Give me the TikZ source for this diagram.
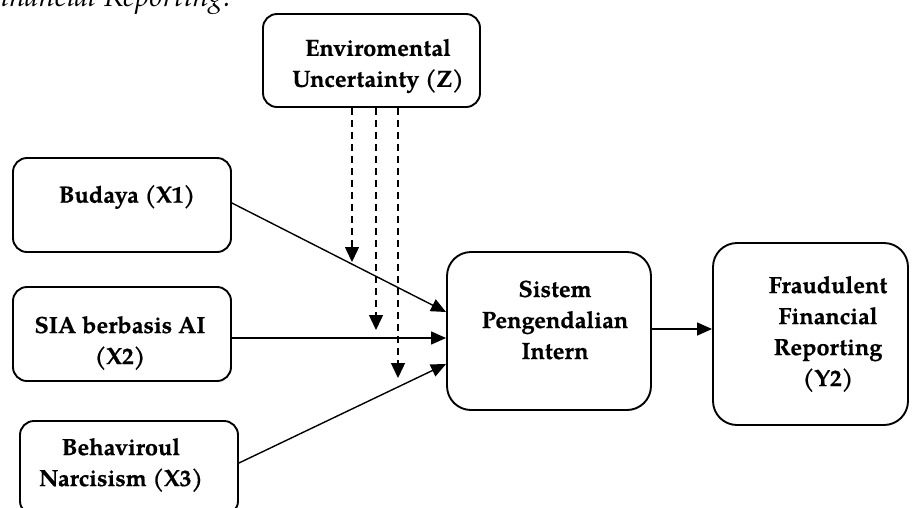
\documentclass[tikz,border=0pt]{standalone}
\usepackage{fontspec}
\setmainfont{TeX Gyre Pagella}[BoldFeatures={FakeBold=0.6}]
\usetikzlibrary{arrows.meta,calc}
\begin{document}
\begin{tikzpicture}[x=1pt,y=-1pt,
  box/.style={draw, line width=1.9pt, rounded corners=14pt, inner sep=0pt},
  bigbox/.style={box, rounded corners=24pt},
  lbl/.style={font=\bfseries\fontsize{23.5}{31}\selectfont, align=center, inner sep=0pt},
  arr/.style={line width=1.4pt, -{Triangle[length=15pt,width=13pt]}},
  darr/.style={line width=1.4pt, dash pattern=on 7pt off 5pt, -{Triangle[length=15pt,width=14pt]}}]
\useasboundingbox (0,0) rectangle (912,507);
\clip (0,0) rectangle (912,507);
\fill[white] (0,0) rectangle (912,507);
% cut-off caption line at the top
\node[font=\itshape\fontsize{29.5}{34}\selectfont, anchor=base east, inner sep=0pt] (cap) at (231,6.5) {Fraudulent Financial Reporting.};
% boxes
\node[box, minimum width=217pt, minimum height=93pt] (z) at (371.5,60.5) {};
\node[box, minimum width=218pt, minimum height=94pt] (bud) at (122,205) {};
\node[box, minimum width=218pt, minimum height=94pt] (sia) at (122,334) {};
\node[box, minimum width=218pt, minimum height=94pt] (beh) at (129,468) {};
\node[bigbox, minimum width=204pt, minimum height=158pt] (spi) at (549,331) {};
\node[bigbox, minimum width=195pt, minimum height=182pt] (fr) at (810.5,334) {};
% labels
\node[lbl] (tz) at (378,66) {Enviromental\\Uncertainty (Z)};
\node[lbl] (tbud) at (127,197) {Budaya (X1)};
\node[lbl] (tsia) at (120,343) {SIA berbasis AI\\(X2)};
\node[lbl] (tbeh) at (121,465) {Behaviroul\\Narcisism (X3)};
\node[lbl] (tspi) at (555,320) {Sistem\\Pengendalian\\Intern};
\node[lbl] (tfr) at (828,334) {Fraudulent\\Financial\\Reporting\\(Y2)};
% moderating dashed arrows
\coordinate (d1) at (352,262);
\coordinate (d2) at (376,330);
\coordinate (d3) at (398,378);
\draw[darr] (z.south -| d1) -- (d1);
\draw[darr] (z.south -| d2) -- (d2);
\draw[darr] (z.south -| d3) -- (d3);
% main arrows
\draw[arr] ($(bud.east)+(0,-2)$) -- ($(spi.west)+(0,-19)$);
\draw[arr] ($(sia.east)+(0,4)$) -- ($(spi.west)+(0,7)$);
\draw[arr] ($(beh.east)+(0,-5)$) -- ($(spi.west)+(0,33)$);
\draw[arr] ($(spi.east)+(0,-2)$) -- ($(fr.west)+(0,-5)$);
\end{tikzpicture}
\end{document}
